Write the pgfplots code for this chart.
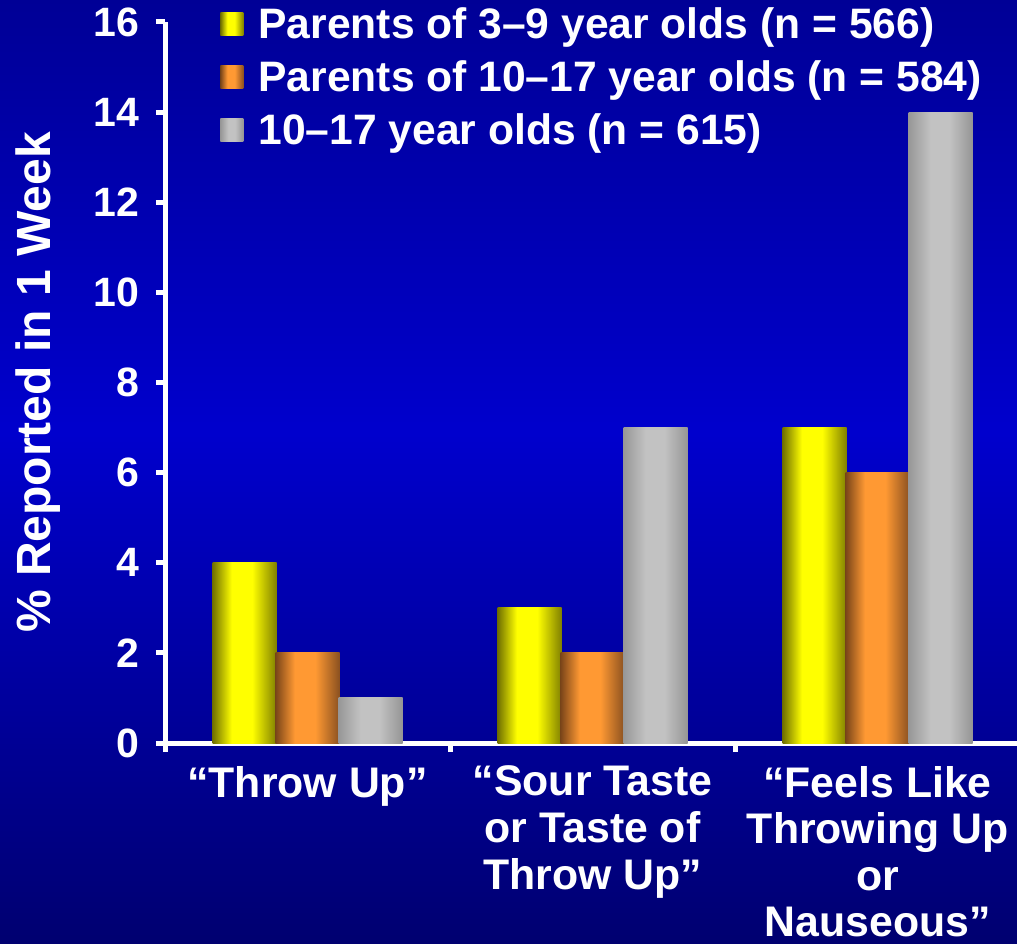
\documentclass[border=0pt]{standalone}
\usepackage{fontspec}
\setmainfont{Liberation Sans}
\usepackage{pgfplots}
\pgfplotsset{compat=1.18}
\definecolor{yd}{RGB}{112,112,0}
\definecolor{ym}{RGB}{255,255,0}
\definecolor{yr}{RGB}{128,128,0}
\definecolor{od}{RGB}{122,69,25}
\definecolor{om}{RGB}{255,153,51}
\definecolor{or}{RGB}{138,80,32}
\definecolor{gd}{RGB}{151,151,151}
\definecolor{gm}{RGB}{194,194,194}
\definecolor{gr}{RGB}{149,149,149}
\definecolor{bgt}{RGB}{0,0,150}
\definecolor{bgm}{RGB}{0,0,205}
\definecolor{bgb}{RGB}{0,0,112}
\pgfdeclarehorizontalshading{yshade}{100bp}{color(0bp)=(yd); color(25bp)=(yd); color(40bp)=(ym); color(56bp)=(ym); color(75bp)=(yr); color(100bp)=(yr)}
\pgfdeclarehorizontalshading{oshade}{100bp}{color(0bp)=(od); color(25bp)=(od); color(40bp)=(om); color(56bp)=(om); color(75bp)=(or); color(100bp)=(or)}
\pgfdeclarehorizontalshading{gshade}{100bp}{color(0bp)=(gd); color(25bp)=(gd); color(42bp)=(gm); color(57bp)=(gm); color(75bp)=(gr); color(100bp)=(gr)}
\pgfdeclareverticalshading{bgshade}{100bp}{color(0bp)=(bgb); color(25bp)=(bgb); color(52bp)=(bgm); color(75bp)=(bgt); color(100bp)=(bgt)}
\pgfplotsset{
  serA/.style={ybar, bar width=0.2246, bar shift=-0.221, draw=none, shading=yshade,
    legend image code/.code={\shade[shading=yshade] (0pt,-5.5pt) rectangle (11.5pt,6pt);}},
  serB/.style={ybar, bar width=0.2246, bar shift=0, draw=none, shading=oshade,
    legend image code/.code={\shade[shading=oshade] (0pt,-5.5pt) rectangle (11.5pt,6pt);}},
  serC/.style={ybar, bar width=0.2246, bar shift=0.221, draw=none, shading=gshade,
    legend image code/.code={\shade[shading=gshade] (0pt,-5.5pt) rectangle (11.5pt,6pt);}},
}
\begin{document}
\begin{tikzpicture}
\useasboundingbox (0,0) rectangle (508.5pt,471.5pt);
\shade[shading=bgshade] (0,0) rectangle (508.5pt,471.5pt);
\begin{axis}[
  at={(82.5pt,100pt)}, anchor=south west,
  scale only axis, width=426pt, height=360.5pt,
  xmin=-0.5, xmax=2.489, ymin=0, ymax=16,
  axis x line*=bottom, axis y line*=left,
  axis line style={white, line width=2.5pt},
  every tick/.style={white, line width=2.5pt},
  tick align=outside, major tick length=4.5pt,
  ytick={0,2,...,16},
  xtick={-0.5,0.5,1.5},
  xticklabels={{“Throw Up”},{“Sour Taste\\or Taste of\\Throw Up”},{“Feels Like\\Throwing Up\\or\\Nauseous”}},
  /pgf/number format/assume math mode=true,
  yticklabel style={font=\fontsize{20.5}{24}\selectfont\bfseries, text=white, xshift=-5pt},
  xticklabel style={font=\fontsize{21.4}{23.3}\selectfont\bfseries, text=white, align=center, anchor=north, xshift=71.25pt, yshift=-3.5pt},
  ylabel={\% Reported in 1 Week},
  ylabel style={at={(axis description cs:-0.149,0.5)}, anchor=center, font=\fontsize{24}{28}\selectfont\bfseries, text=white},
  legend style={at={(0.0646,1.0263)}, anchor=north west, draw=none, fill=none, inner sep=0pt,
    font=\fontsize{21.3}{24}\selectfont\bfseries, text=white,
    row sep=5.5pt, /tikz/every odd column/.append style={column sep=5.5pt}},
  legend cell align=left,
]
\addplot[serA] coordinates {(0,4)};
\addlegendentry{Parents of 3–9 year olds (n = 566)}
\addplot[serB] coordinates {(0,2)};
\addlegendentry{Parents of 10–17 year olds (n = 584)}
\addplot[serC] coordinates {(0,1)};
\addlegendentry{10–17 year olds (n = 615)}
\addplot[serA, forget plot] coordinates {(1,3)};
\addplot[serA, forget plot] coordinates {(2,7)};
\addplot[serB, forget plot] coordinates {(1,2)};
\addplot[serB, forget plot] coordinates {(2,6)};
\addplot[serC, forget plot] coordinates {(1,7)};
\addplot[serC, forget plot] coordinates {(2,14)};
\end{axis}
\end{tikzpicture}
\end{document}
